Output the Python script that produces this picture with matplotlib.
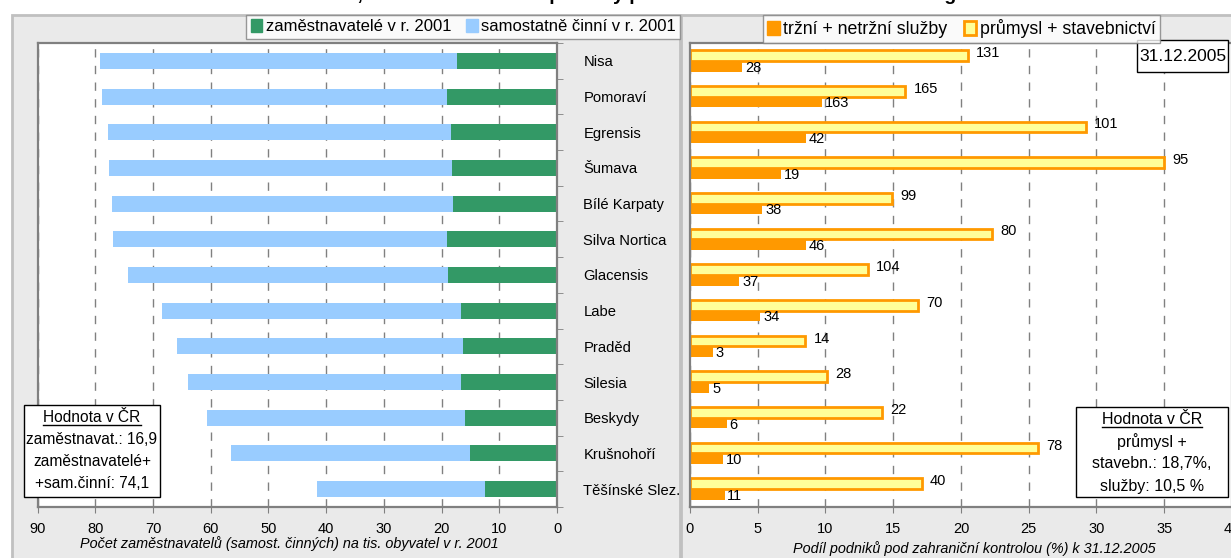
import numpy as np
import matplotlib.pyplot as plt
from matplotlib.patches import Rectangle, Patch
from matplotlib.lines import Line2D

plt.rcParams['font.family'] = ['Liberation Sans', 'DejaVu Sans']

regions = ['Nisa', 'Pomoraví', 'Egrensis', 'Šumava', 'Bílé Karpaty', 'Silva Nortica',
           'Glacensis', 'Labe', 'Praděd', 'Silesia', 'Beskydy', 'Krušnohoří', 'Těšínské Slez.']

# left panel - per 1000 inhabitants, 2001
employers = [17.3, 19.1, 18.3, 18.2, 18.1, 19.0, 18.9, 16.6, 16.3, 16.6, 15.9, 15.1, 12.4]
self_employed = [61.9, 59.7, 59.5, 59.4, 59.0, 57.9, 55.4, 51.9, 49.5, 47.4, 44.7, 41.4, 29.2]

# right panel - share of firms under foreign control (%), labels = number of firms
industry_pct = [20.5, 15.9, 29.2, 35.0, 14.9, 22.3, 13.1, 16.8, 8.5, 10.1, 14.2, 25.7, 17.1]
services_pct = [3.85, 9.74, 8.57, 6.72, 5.34, 8.57, 3.65, 5.2, 1.7, 1.43, 2.7, 2.47, 2.55]
industry_n = [131, 165, 101, 95, 99, 80, 104, 70, 14, 28, 22, 78, 40]
services_n = [28, 163, 42, 19, 38, 46, 37, 34, 3, 5, 6, 10, 11]

GREEN = '#339966'
BLUE = '#99CCFF'
ORANGE = '#FF9900'
YELLOW = '#FFFF99'
GRAY = '#808080'
PANEL = '#EAEAEA'

W, H = 1231, 558
fig = plt.figure(figsize=(W / 100, H / 100), dpi=100)


def fx(x):
    return x / W


def fy(y):
    return 1 - y / H


def rect(x0, y0, x1, y1, **kw):
    fig.add_artist(Rectangle((fx(x0), fy(y1)), fx(x1 - x0), (y1 - y0) / H,
                             transform=fig.transFigure, **kw))


# grey panels
rect(12, 15, 680, 560, facecolor=PANEL, edgecolor='#C0C0C0', lw=2, zorder=0)
rect(681, 15, 1233, 560, facecolor=PANEL, edgecolor='#C0C0C0', lw=2, zorder=0)

# title sits mostly above the picture, as in the source
fig.text(0.5, 1.0, 'Zaměstnavatelé, samostatně činní a podniky pod zahraniční kontrolou v euroregionech',
         ha='center', va='baseline', fontsize=14, fontweight='bold')

y = np.arange(len(regions))

# ---- left chart
ax1 = fig.add_axes([fx(37.5), fy(507), fx(557 - 37.5), (507 - 43) / H])
ax1.barh(y, employers, height=0.45, color=GREEN, zorder=2)
ax1.barh(y, self_employed, left=employers, height=0.45, color=BLUE, zorder=2)
ax1.set_xlim(90, 0)
ax1.set_ylim(len(regions) - 0.5, -0.5)
ax1.set_xticks(np.arange(0, 91, 10))
ax1.grid(axis='x', linestyle=(0, (6, 6)), color=GRAY, lw=1)
ax1.set_axisbelow(True)
ax1.yaxis.tick_right()
ax1.set_yticks(y, labels=regions)
ax1.set_yticks(np.arange(-0.5, len(regions), 1), minor=True)
ax1.tick_params(axis='y', which='major', length=0, pad=19, labelsize=10.6)
ax1.tick_params(axis='y', which='minor', length=4, color=GRAY, direction='out')
for lbl in ax1.get_yticklabels():
    lbl.set_horizontalalignment('left')
ax1.tick_params(axis='x', length=4, color=GRAY, labelsize=10.5, pad=7)
for s in ax1.spines.values():
    s.set_color(GRAY)
    s.set_linewidth(1.6)
fig.text(fx(289), fy(544), 'Počet zaměstnavatelů (samost. činných) na tis. obyvatel v r. 2001',
         ha='center', va='center', fontsize=10.4, style='italic')

# ---- right chart
ax2 = fig.add_axes([fx(690), fy(507), fx(542), (507 - 43) / H])
ax2.barh(y - 0.15, industry_pct, height=0.3, color=YELLOW, edgecolor=ORANGE, lw=2, zorder=2)
ax2.barh(y + 0.15, services_pct, height=0.3, color=ORANGE, zorder=2)
for yi, v, n in zip(y, industry_pct, industry_n):
    ax2.annotate(str(n), (v, yi - 0.22), xytext=(6, 0), textcoords='offset points',
                 ha='left', va='center', fontsize=10.5)
for yi, v, n in zip(y, services_pct, services_n):
    ax2.annotate(str(n), (v, yi + 0.15), xytext=(2, -1), textcoords='offset points',
                 ha='left', va='center', fontsize=10.5)
ax2.set_xlim(0, 40)
ax2.set_ylim(len(regions) - 0.5, -0.5)
ax2.set_xticks(np.arange(0, 41, 5))
ax2.set_yticks([])
ax2.grid(axis='x', linestyle=(0, (6, 6)), color=GRAY, lw=1)
ax2.set_axisbelow(True)
ax2.tick_params(axis='x', length=4, color=GRAY, labelsize=10.5, pad=7)
for s in ax2.spines.values():
    s.set_color(GRAY)
    s.set_linewidth(1.6)
fig.text(fx(974), fy(549), 'Podíl podniků pod zahraniční kontrolou (%) k 31.12.2005',
         ha='center', va='center', fontsize=10.4, style='italic')

# legends
leg_kw = dict(ncol=2, frameon=True, fancybox=False, edgecolor=GRAY,
              handlelength=0.7, handleheight=0.8, handletextpad=0.2,
              borderpad=0.25, borderaxespad=0)
l1 = fig.legend([Patch(color=GREEN), Patch(color=BLUE)],
                ['zaměstnavatelé v r. 2001', 'samostatně činní v r. 2001'],
                loc='upper right', bbox_to_anchor=(fx(680), fy(15)),
                fontsize=12, columnspacing=0.9, **leg_kw)
l1.get_frame().set_linewidth(1)
l2 = fig.legend([Patch(color=ORANGE), Patch(facecolor=YELLOW, edgecolor=ORANGE, lw=2)],
                ['tržní + netržní služby', 'průmysl + stavebnictví'],
                loc='upper left', bbox_to_anchor=(fx(763), fy(15)),
                fontsize=12.8, columnspacing=0.9, **leg_kw)
l2.get_frame().set_linewidth(1)

# date box
rect(1137, 40, 1228, 72, facecolor='white', edgecolor='black', lw=1, zorder=5)
fig.text(fx(1182.5), fy(56), '31.12.2005', ha='center', va='center', fontsize=12.5, zorder=6)

# reference value boxes
rect(24, 405, 160, 497, facecolor='white', edgecolor='black', lw=1, zorder=5)
rect(1076, 407, 1228, 497, facecolor='white', edgecolor='black', lw=1, zorder=5)

heads = []
left_lines = ['Hodnota v ČR', 'zaměstnavat.: 16,9', 'zaměstnavatelé+', '+sam.činní: 74,1']
for i, t in enumerate(left_lines):
    tx = fig.text(fx(92), fy(418 + 22 * i), t, ha='center', va='center', fontsize=11.2, zorder=6)
    if i == 0:
        heads.append(tx)
right_lines = ['Hodnota v ČR', 'průmysl +', 'stavebn.: 18,7%,', 'služby: 10,5 %']
for i, t in enumerate(right_lines):
    tx = fig.text(fx(1152), fy(420 + 22 * i), t, ha='center', va='center', fontsize=11.5, zorder=6)
    if i == 0:
        heads.append(tx)

# underline the box headings
fig.canvas.draw()
r = fig.canvas.get_renderer()
for tx in heads:
    bb = tx.get_window_extent(r)
    fig.add_artist(Line2D([bb.x0 / W, bb.x1 / W], [(bb.y0 + 1) / H] * 2,
                          transform=fig.transFigure, color='black', lw=1, zorder=7))

fig.savefig('out.png', dpi=100)
